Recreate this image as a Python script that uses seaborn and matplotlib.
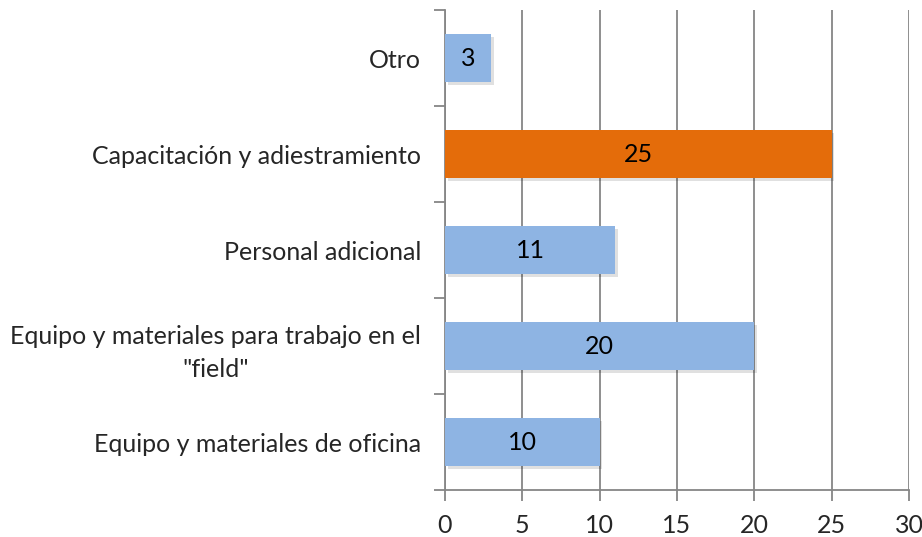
import matplotlib
matplotlib.use("Agg")
import matplotlib.pyplot as plt
import matplotlib.patheffects as pe
from matplotlib.ticker import FixedLocator
import seaborn as sns
import pandas as pd

categories = [
    "Otro",
    "Capacitación y adiestramiento",
    "Personal adicional",
    "Equipo y materiales para trabajo en el\n\"field\"",
    "Equipo y materiales de oficina",
]
values = [3, 25, 11, 20, 10]
bar_colors = ["#8EB4E3", "#E46C0A", "#8EB4E3", "#8EB4E3", "#8EB4E3"]
x_ticks = [0, 5, 10, 15, 20, 25, 30]

df = pd.DataFrame({"categoria": categories, "valor": values})

sns.set_theme(style="white")
plt.rcParams["font.family"] = ["Lato", "DejaVu Sans"]
FS = 18

fig = plt.figure(figsize=(9.22, 5.37), dpi=100)
ax = fig.add_axes([0.4826, 0.0875, 0.9859 - 0.4826, 0.981 - 0.0875])

sns.barplot(data=df, x="valor", y="categoria", hue="categoria",
            palette=bar_colors, order=categories, hue_order=categories,
            width=0.5, legend=False, saturation=1, ax=ax, zorder=3)

for bar in ax.patches:
    bar.set_edgecolor("none")
    bar.set_path_effects([pe.SimplePatchShadow(offset=(2, -2), alpha=0.12, shadow_rgbFace="black"),
                          pe.Normal()])

for bar, v in zip(ax.patches, values):
    ax.text(bar.get_x() + bar.get_width() / 2, bar.get_y() + bar.get_height() / 2,
            str(v), ha="center", va="center", fontsize=FS, color="black", zorder=5)

ax.set_xlim(0, 30)
ax.set_ylim(len(categories) - 0.5, -0.5)
ax.set_xticks(x_ticks)
ax.set_xticklabels([str(t) for t in x_ticks], fontsize=FS)
ax.xaxis.grid(True, color="#868686", linewidth=1.3, zorder=0)
ax.set_axisbelow(True)

ax.yaxis.set_minor_locator(FixedLocator([i + 0.5 for i in range(-1, len(categories))]))
ax.tick_params(axis="y", which="major", length=0, pad=17, labelsize=FS)
ax.tick_params(axis="y", which="minor", left=True, length=8, width=1.3, color="#868686")
ax.tick_params(axis="x", which="major", bottom=True, length=8, width=1.3, color="#868686", pad=9)
for lbl in ax.get_yticklabels():
    lbl.set_multialignment("center")
    lbl.set_linespacing(1.5)

ax.set_xlabel("")
ax.set_ylabel("")
for side in ["top", "right"]:
    ax.spines[side].set_visible(False)
for side in ["left", "bottom"]:
    ax.spines[side].set_color("#868686")
    ax.spines[side].set_linewidth(1.3)

fig.savefig("out.png", dpi=100)
